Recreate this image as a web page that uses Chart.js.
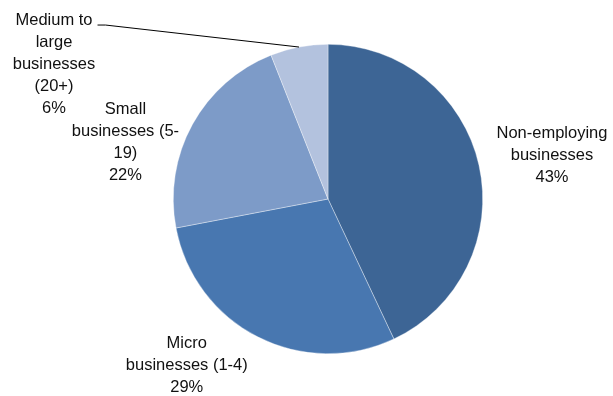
<!DOCTYPE html>
<html>
<head>
<meta charset="utf-8">
<script src="https://cdn.jsdelivr.net/npm/chart.js@4/dist/chart.umd.min.js"></script>
<style>
  html, body { margin: 0; padding: 0; background: #fff; }
  canvas { display: block; }
</style>
</head>
<body>
<canvas id="bizChart" width="613" height="396"></canvas>
<script>
// businesses by employment size
const sizeLabels = [
    ["Non-employing", "businesses"],
    ["Micro", "businesses (1-4)"],
    ["Small", "businesses (5-", "19)"],
    ["Medium to", "large", "businesses", "(20+)"]
];
const sharePct = [43, 29, 22, 6];
const sliceColors = ["#3D6595", "#4877B0", "#7D9BC8", "#B3C2DE"];

// where each label sits, measured from the slice's outer edge at its mid angle
const labelNudge = [[73, -10], [-71, 29], [-67, 18], [-245, 17]];

const sliceLabels = {
    id: "sliceLabels",
    afterDraw(chart) {
        const ctx = chart.ctx;
        const arcs = chart.getDatasetMeta(0).data;
        ctx.save();
        ctx.font = "16.5px 'Liberation Sans', Arial, sans-serif";
        ctx.fillStyle = "#111";
        ctx.textAlign = "center";
        ctx.textBaseline = "middle";
        arcs.forEach(function (arc, i) {
            const mid = (arc.startAngle + arc.endAngle) / 2;
            const ex = arc.x + Math.cos(mid) * arc.outerRadius;
            const ey = arc.y + Math.sin(mid) * arc.outerRadius;
            const lines = sizeLabels[i].concat([sharePct[i] + "%"]);
            const lh = 22;
            const cx = ex + labelNudge[i][0];
            const cy = ey + labelNudge[i][1];
            const top = cy - (lines.length - 1) * lh / 2;
            lines.forEach(function (t, k) {
                ctx.fillText(t, cx, top + k * lh);
            });
            // the thin slice gets a leader line from its first line of text
            if (i === 3) {
                const w = ctx.measureText(lines[0]).width;
                const lx = cx + w / 2 + 5;
                ctx.strokeStyle = "#000";
                ctx.lineWidth = 1;
                ctx.beginPath();
                ctx.moveTo(lx, top + 5);
                ctx.lineTo(lx + 8, top + 5);
                ctx.lineTo(ex, ey);
                ctx.stroke();
            }
        });
        ctx.restore();
    }
};

new Chart("bizChart", {
    type: "pie",
    data: {
        labels: sizeLabels.map(function (l) { return l.join(" "); }),
        datasets: [{
            data: sharePct,
            backgroundColor: sliceColors,
            borderColor: "rgba(255,255,255,0.6)",
            borderWidth: 0.6,
            hoverOffset: 0
        }]
    },
    options: {
        responsive: false,
        animation: false,
        layout: { padding: { left: 173, right: 130, top: 44, bottom: 42 } },
        plugins: {
            legend: { display: false },
            tooltip: { enabled: false }
        }
    },
    plugins: [sliceLabels]
});
</script>
</body>
</html>
